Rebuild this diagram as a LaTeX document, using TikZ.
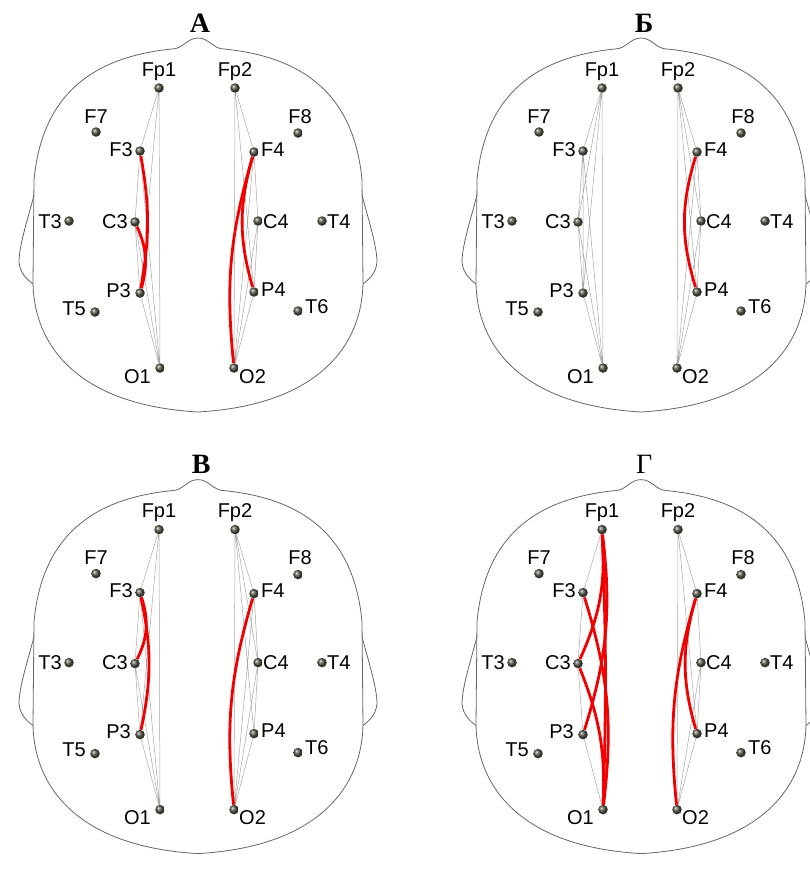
\documentclass[tikz,border=0pt]{standalone}
\usepackage{fontspec}
\setmainfont{Liberation Serif}
\setsansfont{Liberation Sans}
\usetikzlibrary{shapes.geometric}
\definecolor{Elec}{RGB}{85,85,70}

\tikzset{
    outline/.style={draw=black!60, line width=0.8pt},
    electrode/.style={circle, minimum size=9.5pt, inner sep=0pt,
        shading=ball, ball color=Elec},
    lbl/.style={font=\sffamily\fontsize{20}{20}\selectfont, text=black, inner sep=0pt},
    ttl/.style={font=\rmfamily\bfseries\fontsize{28}{28}\selectfont, inner sep=0pt},
    head/.pic={
        % outline of the head
        \draw[outline] (1,38) .. controls (-10,38) and (-14,49) .. (-25,49)
            .. controls (-105,57) and (-155,95) .. (-163,180) -- (-164,283)
            .. controls (-163,345) and (-120,405) .. (1,412)
            .. controls (122,405) and (165,345) .. (166,283) -- (165,180)
            .. controls (157,95) and (107,57) .. (27,49)
            .. controls (16,49) and (12,38) .. (1,38) -- cycle;
        \draw[outline] (-163,195) .. controls (-168,215) and (-178,245) .. (-178,262)
            .. controls (-177,274) and (-169,280) .. (-164,284);
        \draw[outline] (165,195) .. controls (170,215) and (180,245) .. (180,262)
            .. controls (179,274) and (171,280) .. (166,284);
        % electrodes and their names
        \foreach \n/\x/\y/\an/\dx/\dy in {
            Fp1/-38/88/base/0/-12, Fp2/38/88/base/0/-12,
            F7/-101/132/base/0/-9, F8/101/133/base/2/-10,
            F3/-57/151/base east/-7/5, F4/57/152/base west/7/4,
            T3/-128/221/base east/-7/7, C3/-62/222/base east/-7/6,
            C4/61/221/base west/5/7, T4/125/221/base west/5/7,
            P3/-57/293/base east/-9/4, P4/57/292/base west/7/4,
            T5/-102/312/base east/-9/3, T6/101/311/base west/7/2,
            O1/-37/368/base east/-9/15, O2/37/368/base west/5/15}{
            \node[electrode] (\n) at (\x,\y) {};
            \node[lbl, anchor=\an] (\n-l) at (\x+\dx,\y+\dy) {\n};
        }
    }
}

\begin{document}
\begin{tikzpicture}[
    x=1pt, y=-1pt,
    link/.style={draw=black!35, line width=0.5pt},
    conn/.style={draw=red!95!black, line width=2.8pt}
]
\useasboundingbox (0,0) rectangle (810,870);
\clip (0,0) rectangle (810,870);

% А
\begin{scope}[shift={(197,0)}]
\pic (a) {head};
\node[ttl, anchor=base] (ta) at (3,32) {А};
\draw[link] (aFp1) -- (aF3) (aFp1) -- (aO1) (aFp1) -- (aP3) (aF3) -- (aC3)
    (aF3) -- (aO1) (aC3) -- (aP3) (aC3) -- (aO1) (aP3) -- (aO1);
\draw[link] (aFp2) -- (aF4) (aFp2) -- (aO2) (aFp2) -- (aP4) (aF4) -- (aC4)
    (aF4) -- (aO2) (aC4) -- (aP4) (aC4) -- (aO2) (aP4) -- (aO2);
\draw[conn] (aF3) to[bend left=10] (aP3);
\draw[conn] (aC3) to[bend left=20] (aP3);
\draw[conn] (aF4) to[bend right=11] (aO2);
\draw[conn] (aF4) to[bend right=16] (aP4);
\end{scope}

% Б
\begin{scope}[shift={(640,0)}]
\pic (b) {head};
\node[ttl, anchor=base] (tb) at (4,32) {Б};
\draw[link] (bFp1) -- (bF3) (bFp1) -- (bC3) (bFp1) -- (bP3) (bFp1) -- (bO1)
    (bF3) -- (bC3) (bF3) -- (bP3) (bF3) -- (bO1) (bC3) -- (bP3) (bC3) -- (bO1)
    (bP3) -- (bO1);
\draw[link] (bFp2) -- (bF4) (bFp2) -- (bC4) (bFp2) -- (bO2) (bFp2) -- (bP4)
    (bF4) -- (bC4) (bC4) -- (bP4) (bC4) -- (bO2) (bP4) -- (bO2) (bF4) -- (bO2);
\draw[conn] (bF4) to[bend right=17] (bP4);
\end{scope}

% В
\begin{scope}[shift={(197,441.6)}, scale=1.05]
\pic (v) {head};
\node[ttl, anchor=base] (tv) at (4,30) {В};
\draw[link] (vFp1) -- (vF3) (vFp1) -- (vO1) (vFp1) -- (vP3) (vF3) -- (vC3)
    (vF3) -- (vO1) (vC3) -- (vP3) (vC3) -- (vO1) (vP3) -- (vO1);
\draw[link] (vFp2) -- (vF4) (vFp2) -- (vO2) (vFp2) -- (vP4) (vF4) -- (vC4)
    (vF4) -- (vO2) (vC4) -- (vP4) (vC4) -- (vO2) (vP4) -- (vO2) (vFp2) -- (vC4);
\draw[conn] (vF3) to[bend left=22] (vC3);
\draw[conn] (vF3) to[bend left=12] (vP3);
\draw[conn] (vF4) to[bend right=11] (vO2);
\end{scope}

% Г
\begin{scope}[shift={(640,441.6)}, scale=1.05]
\pic (g) {head};
\node[ttl, anchor=base, font=\rmfamily\fontsize{28}{28}\selectfont] (tg) at (4,30) {Г};
\draw[link] (gFp1) -- (gF3) (gF3) -- (gC3) (gC3) -- (gP3) (gP3) -- (gO1);
\draw[link] (gFp2) -- (gF4) (gFp2) -- (gO2) (gFp2) -- (gP4) (gF4) -- (gC4)
    (gC4) -- (gP4) (gC4) -- (gO2) (gP4) -- (gO2);
\draw[conn] (gFp1) to[bend left=14] (gC3);
\draw[conn] (gFp1) to[bend left=12] (gP3);
\draw[conn] (gFp1) to[bend left=2] (gO1);
\draw[conn] (gF3) to[bend left=12] (gO1);
\draw[conn] (gC3) to[bend left=12] (gO1);
\draw[conn] (gF4) to[bend right=11] (gO2);
\draw[conn] (gF4) to[bend right=16] (gP4);
\end{scope}

\end{tikzpicture}
\end{document}
